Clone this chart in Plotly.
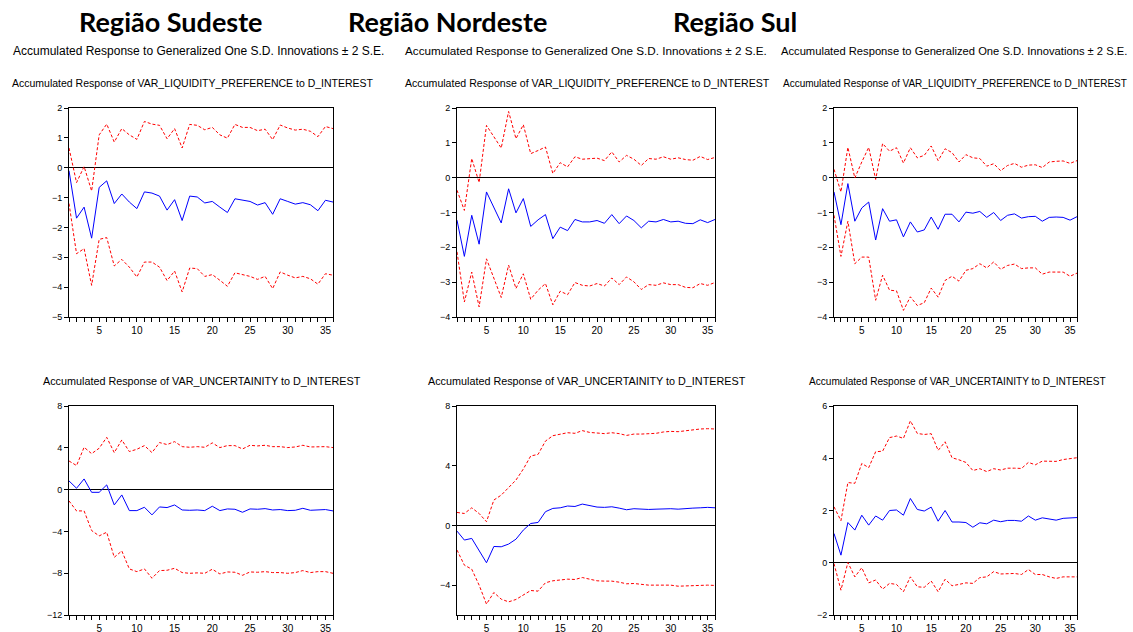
import plotly.graph_objects as go

W, H = 1133, 632
periods = list(range(1, 37))

regions = ["Região Sudeste", "Região Nordeste", "Região Sul"]
subtitle = "Accumulated Response to Generalized One S.D. Innovations ± 2 S.E."
top_title = "Accumulated Response of VAR_LIQUIDITY_PREFERENCE to D_INTEREST"
bot_title = "Accumulated Response of VAR_UNCERTAINITY to D_INTEREST"

# ---- Top row: VAR_LIQUIDITY_PREFERENCE ----
se_liq = [-0.1, -1.69, -1.32, -2.36, -0.66, -0.44, -1.2, -0.88, -1.15, -1.37, -0.81, -0.85, -0.95, -1.42, -1.07, -1.77,
          -0.95, -0.98, -1.18, -1.13, -1.32, -1.5, -1.04, -1.09, -1.13, -1.25, -1.17, -1.56, -1.04, -1.13, -1.22, -1.17,
          -1.24, -1.44, -1.09, -1.15]
se_liq_up = [0.66, -0.5, 0.04, -0.78, 1.1, 1.46, 0.86, 1.31, 1.1, 0.95, 1.55, 1.46, 1.42, 0.97, 1.31, 0.66,
             1.45, 1.42, 1.27, 1.35, 1.1, 0.99, 1.45, 1.35, 1.35, 1.24, 1.29, 0.94, 1.43, 1.33, 1.26, 1.29,
             1.22, 1.04, 1.38, 1.31]
se_liq_lo = [-1.2, -2.88, -2.71, -3.94, -2.4, -2.34, -3.29, -3.07, -3.33, -3.66, -3.16, -3.16, -3.33, -3.78, -3.46, -4.16,
             -3.36, -3.38, -3.64, -3.58, -3.77, -3.97, -3.52, -3.57, -3.64, -3.74, -3.64, -4.05, -3.49, -3.6, -3.69, -3.64,
             -3.72, -3.9, -3.55, -3.6]

ne_liq = [-1.22, -2.26, -1.08, -1.91, -0.41, -0.87, -1.3, -0.32, -1.01, -0.6, -1.4, -1.21, -1.06, -1.75, -1.42, -1.52,
          -1.2, -1.27, -1.27, -1.23, -1.31, -1.06, -1.32, -1.1, -1.23, -1.44, -1.25, -1.27, -1.2, -1.27, -1.25, -1.31,
          -1.32, -1.21, -1.29, -1.2]
ne_liq_up = [-0.36, -0.94, 0.55, -0.14, 1.5, 1.17, 0.85, 1.9, 1.12, 1.52, 0.69, 0.78, 0.88, 0.12, 0.43, 0.31,
             0.6, 0.53, 0.55, 0.56, 0.49, 0.74, 0.45, 0.64, 0.53, 0.35, 0.55, 0.53, 0.6, 0.53, 0.57, 0.52,
             0.5, 0.61, 0.52, 0.58]
ne_liq_lo = [-2.13, -3.57, -2.71, -3.71, -2.33, -2.88, -3.44, -2.51, -3.18, -2.76, -3.49, -3.23, -3.04, -3.65, -3.26, -3.36,
             -3.01, -3.09, -3.11, -3.04, -3.11, -2.88, -3.07, -2.85, -2.99, -3.21, -3.07, -3.09, -3.02, -3.07, -3.07, -3.15,
             -3.16, -3.04, -3.09, -3.01]

s_liq = [-0.41, -1.35, -0.17, -1.25, -0.87, -0.7, -1.79, -0.89, -1.25, -1.21, -1.7, -1.27, -1.56, -1.5, -1.13, -1.48,
         -1.05, -1.05, -1.27, -0.99, -1.02, -0.97, -1.14, -1.0, -1.23, -1.08, -1.04, -1.16, -1.12, -1.11, -1.25, -1.14,
         -1.13, -1.14, -1.22, -1.12]
s_liq_up = [0.24, -0.41, 0.87, -0.01, 0.45, 0.87, -0.05, 0.98, 0.76, 0.86, 0.42, 0.86, 0.57, 0.64, 0.91, 0.49,
            0.83, 0.72, 0.45, 0.66, 0.57, 0.55, 0.33, 0.4, 0.2, 0.35, 0.41, 0.3, 0.36, 0.37, 0.29, 0.45,
            0.47, 0.48, 0.41, 0.49]
s_liq_lo = [-1.08, -2.26, -1.25, -2.47, -2.28, -2.28, -3.52, -2.8, -3.23, -3.25, -3.81, -3.42, -3.67, -3.59, -3.17, -3.43,
            -2.95, -2.83, -2.97, -2.66, -2.61, -2.47, -2.59, -2.42, -2.63, -2.52, -2.48, -2.61, -2.59, -2.59, -2.77, -2.71,
            -2.71, -2.71, -2.83, -2.74]

# ---- Bottom row: VAR_UNCERTAINITY ----
se_unc = [0.83, 0.13, 1.02, -0.26, -0.26, 0.45, -1.47, -0.51, -2.01, -2.01, -1.69, -2.42, -1.66, -1.72, -1.47, -1.95,
          -1.98, -1.95, -2.01, -1.59, -2.01, -1.85, -1.88, -2.17, -1.85, -1.88, -1.82, -1.95, -1.91, -2.01, -1.98, -1.79,
          -1.98, -1.91, -1.91, -2.04]
se_unc_up = [2.74, 2.3, 4.05, 3.44, 3.96, 5.0, 3.54, 4.75, 3.64, 3.86, 4.21, 3.54, 4.5, 4.31, 4.59, 4.11,
             4.05, 4.11, 4.05, 4.47, 4.02, 4.21, 4.21, 3.89, 4.24, 4.18, 4.24, 4.11, 4.11, 4.02, 4.08, 4.24,
             4.08, 4.11, 4.11, 4.02]
se_unc_lo = [-1.08, -2.04, -2.04, -3.92, -4.43, -4.08, -6.48, -5.87, -7.59, -7.85, -7.59, -8.48, -7.75, -7.72, -7.53, -7.94,
             -8.01, -7.97, -8.01, -7.62, -8.07, -7.88, -7.91, -8.2, -7.88, -7.91, -7.85, -7.94, -7.94, -8.01, -7.94, -7.75,
             -7.94, -7.85, -7.85, -8.01]

ne_unc = [-0.38, -0.98, -0.87, -1.72, -2.5, -1.41, -1.43, -1.25, -0.92, -0.31, 0.13, 0.2, 0.92, 1.14, 1.18, 1.3,
          1.27, 1.43, 1.32, 1.23, 1.21, 1.25, 1.16, 1.05, 1.12, 1.09, 1.07, 1.09, 1.12, 1.12, 1.09, 1.14,
          1.16, 1.18, 1.21, 1.18]
ne_unc_up = [0.87, 0.8, 1.18, 0.8, 0.25, 1.7, 2.03, 2.53, 3.04, 3.78, 4.65, 4.76, 5.65, 6.01, 6.1, 6.21,
             6.17, 6.35, 6.23, 6.19, 6.15, 6.21, 6.15, 6.03, 6.12, 6.12, 6.12, 6.17, 6.26, 6.3, 6.28, 6.35,
             6.39, 6.46, 6.48, 6.46]
ne_unc_lo = [-1.65, -2.66, -2.93, -4.0, -5.27, -4.49, -4.94, -5.12, -4.96, -4.63, -4.36, -4.4, -3.84, -3.71, -3.66, -3.6,
             -3.62, -3.49, -3.6, -3.71, -3.73, -3.73, -3.8, -3.91, -3.89, -3.96, -4.0, -4.0, -4.0, -4.0, -4.07, -4.04,
             -4.02, -4.0, -4.0, -4.02]

s_unc = [1.12, 0.29, 1.54, 1.25, 1.82, 1.44, 1.79, 1.63, 2.0, 2.02, 1.82, 2.46, 2.04, 1.98, 2.13, 1.59,
         2.0, 1.56, 1.56, 1.54, 1.36, 1.53, 1.49, 1.63, 1.57, 1.62, 1.62, 1.59, 1.79, 1.63, 1.72, 1.68,
         1.63, 1.7, 1.71, 1.73]
s_unc_up = [2.14, 1.61, 3.07, 3.04, 3.8, 3.64, 4.25, 4.27, 4.79, 4.85, 4.76, 5.43, 4.95, 4.91, 4.94, 4.3,
            4.63, 4.02, 3.94, 3.84, 3.53, 3.6, 3.49, 3.6, 3.55, 3.62, 3.62, 3.61, 3.84, 3.75, 3.89, 3.89,
            3.88, 3.95, 3.98, 4.02]
s_unc_lo = [-0.03, -1.05, 0.01, -0.54, -0.19, -0.77, -0.66, -1.01, -0.79, -0.83, -1.11, -0.54, -0.92, -0.94, -0.7, -1.11,
            -0.63, -0.88, -0.83, -0.77, -0.79, -0.57, -0.54, -0.34, -0.43, -0.41, -0.41, -0.45, -0.26, -0.45, -0.45, -0.54,
            -0.6, -0.54, -0.54, -0.54]

panels = [
    (se_liq, se_liq_up, se_liq_lo, [-5, 2], 1),
    (ne_liq, ne_liq_up, ne_liq_lo, [-4, 2], 1),
    (s_liq, s_liq_up, s_liq_lo, [-4, 2], 1),
    (se_unc, se_unc_up, se_unc_lo, [-12, 8], 4),
    (ne_unc, ne_unc_up, ne_unc_lo, [-6, 8], 4),
    (s_unc, s_unc_up, s_unc_lo, [-2, 6], 2),
]

# pixel layout of panels
col_px = [(69, 333), (457, 715), (834, 1077)]
row_px = [(108, 317), (406, 615)]

SANS = "Liberation Sans, Arial, sans-serif"

fig = go.Figure()
layout = dict(
    width=W, height=H, autosize=False,
    margin=dict(l=0, r=0, t=0, b=0, pad=0, autoexpand=False),
    paper_bgcolor="white", plot_bgcolor="white",
    showlegend=False,
    font=dict(family=SANS, size=10, color="black"),
)

for i, (mid, up, lo, yr, dt) in enumerate(panels):
    r, c = divmod(i, 3)
    n = i + 1
    xa = "x" if n == 1 else f"x{n}"
    ya = "y" if n == 1 else f"y{n}"
    for vals, color, dash in ((up, "#ff0000", "3px,2px"), (lo, "#ff0000", "3px,2px"), (mid, "#0000ff", "solid")):
        fig.add_trace(go.Scatter(x=periods, y=vals, mode="lines", xaxis=xa, yaxis=ya,
                                 line=dict(color=color, width=1, dash=dash), hoverinfo="skip"))
    x0, x1 = col_px[c]
    y0, y1 = row_px[r]
    layout["xaxis" if n == 1 else f"xaxis{n}"] = dict(
        domain=[x0 / W, x1 / W], anchor=ya, range=[1, 36], automargin=False,
        tickvals=[5, 10, 15, 20, 25, 30, 35], ticks="outside", ticklen=4, tickcolor="black",
        minor=dict(tickvals=periods, ticks="outside", ticklen=4, tickcolor="black"),
        showline=True, linecolor="black", linewidth=1, mirror=True, showgrid=False, zeroline=False,
        tickfont=dict(family=SANS, size=10), fixedrange=True,
    )
    layout["yaxis" if n == 1 else f"yaxis{n}"] = dict(
        domain=[1 - y1 / H, 1 - y0 / H], anchor=xa, range=yr, dtick=dt, tick0=0, automargin=False,
        ticks="outside", ticklen=4, tickcolor="black",
        showline=True, linecolor="black", linewidth=1, mirror=True, showgrid=False,
        zeroline=True, zerolinecolor="black", zerolinewidth=1,
        tickfont=dict(family=SANS, size=9), fixedrange=True,
    )

fig.update_layout(**layout)

centers = [171, 447, 735]
sub_centers = [198, 586, 954]
sub_sizes = [12.0, 11.7, 11.2]
top_centers = [193, 587, 955]
top_sizes = [10.5, 10.6, 10.0]
bot_centers = [202, 587, 957]
bot_sizes = [10.8, 10.8, 10.1]
anns = []
for name, cx in zip(regions, centers):
    anns.append(dict(text=f"<b>{name}</b>", x=cx / W, y=1 - 22 / H, xref="paper", yref="paper",
                     xanchor="center", yanchor="middle", showarrow=False,
                     font=dict(family="Lato, Open Sans, sans-serif", size=27, color="black")))
for k in range(3):
    anns.append(dict(text=subtitle, x=sub_centers[k] / W, y=1 - 51 / H, xref="paper", yref="paper",
                     xanchor="center", yanchor="middle", showarrow=False,
                     font=dict(family=SANS, size=sub_sizes[k], color="black")))
    anns.append(dict(text=top_title, x=top_centers[k] / W, y=1 - 83 / H, xref="paper", yref="paper",
                     xanchor="center", yanchor="middle", showarrow=False,
                     font=dict(family=SANS, size=top_sizes[k], color="black")))
    anns.append(dict(text=bot_title, x=bot_centers[k] / W, y=1 - 381 / H, xref="paper", yref="paper",
                     xanchor="center", yanchor="middle", showarrow=False,
                     font=dict(family=SANS, size=bot_sizes[k], color="black")))
fig.update_layout(annotations=anns)

fig.write_html("out.html")
